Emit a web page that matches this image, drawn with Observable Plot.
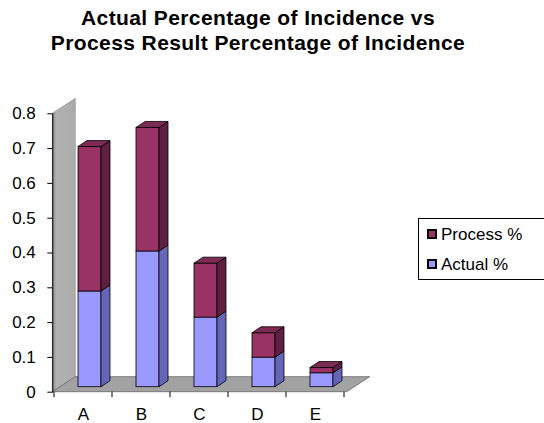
<!DOCTYPE html>
<html>
<head>
<meta charset="utf-8">
<script src="https://cdn.jsdelivr.net/npm/d3@7"></script>
<script src="https://cdn.jsdelivr.net/npm/@observablehq/plot@0.6"></script>
<style>
  body { margin: 0; background: #fff; font-family: "Liberation Sans", Arial, sans-serif; color: #000; }
  #wrap { position: relative; width: 544px; height: 423px; overflow: hidden; }
  #title { position: absolute; left: 0; top: 5px; width: 516px; text-align: center;
           font-weight: bold; font-size: 21px; line-height: 25px; letter-spacing: 0.4px; }
  #chart { position: absolute; left: 0; top: 58px; }
  #legend { position: absolute; left: 418px; top: 218px; width: 150px; height: 62px;
            border: 1px solid #000; box-sizing: border-box; }
  .item { position: absolute; left: 0; height: 17px; font-size: 17px; line-height: 17px; white-space: nowrap; }
  .sw { position: absolute; left: 8px; width: 10px; height: 10px; box-sizing: border-box; border: 2px solid #000; }
  .lab { position: absolute; left: 22px; top: 0; }
</style>
</head>
<body>
<div id="wrap">
  <div id="title">Actual Percentage of Incidence vs<br>Process Result Percentage of Incidence</div>
  <div id="chart"></div>
  <div id="legend"></div>
</div>
<script>
// Categories and the two stacked series
const categories = ["A", "B", "C", "D", "E"];
const actual  = [0.275, 0.39, 0.20, 0.085, 0.04];
const process = [0.415, 0.355, 0.155, 0.07, 0.015];
const seriesNames = ["Actual %", "Process %"];
const seriesFront = ["#9999FF", "#993366"];
const seriesSide  = ["#6666B8", "#5E1F40"];
const seriesTop   = ["#7B7BD6", "#7D2A55"];
const yTicks = [0, 0.1, 0.2, 0.3, 0.4, 0.5, 0.6, 0.7, 0.8];

// Long table for the stacked front faces
const rows = [];
categories.forEach((c, i) => {
  rows.push({cat: c, series: seriesNames[0], value: actual[i]});
  rows.push({cat: c, series: seriesNames[1], value: process[i]});
});

// 3D look: floor/wall depth and bar depth in pixels
const wallDx = 23, wallDy = -15;
const barLift = -5;          // bars stand back from the front edge of the floor
const barDx = 9, barDy = -6; // bar depth
const insetL = 24, insetR = 11;

function bandwidthOf(x, dims) {
  return x.bandwidth ? x.bandwidth() : (dims.width - dims.marginLeft - dims.marginRight) / categories.length;
}

// Back wall and floor
function wallAndFloor(index, scales, values, dims) {
  const {y} = scales;
  const g = d3.create("svg:g");
  const x0 = dims.marginLeft, x1 = dims.width - dims.marginRight;
  const yb = y(0), yt = y(y.domain()[1]);
  const grad = g.append("defs").append("linearGradient")
    .attr("id", "wallGrad").attr("x1", 0).attr("x2", 1).attr("y1", 0).attr("y2", 0);
  grad.append("stop").attr("offset", "0%").attr("stop-color", "#8e8e8e");
  grad.append("stop").attr("offset", "18%").attr("stop-color", "#b2b2b2");
  grad.append("stop").attr("offset", "100%").attr("stop-color", "#ababab");
  g.append("polygon")
    .attr("points", [[x0, yb], [x0, yt], [x0 + wallDx, yt + wallDy], [x0 + wallDx, yb + wallDy]].join(" "))
    .attr("fill", "url(#wallGrad)").attr("stroke", "#8a8a8a").attr("stroke-width", 0.6);
  g.append("polygon")
    .attr("points", [[x0, yb], [x1, yb], [x1 + wallDx, yb + wallDy], [x0 + wallDx, yb + wallDy]].join(" "))
    .attr("fill", "#a2a2a2").attr("stroke", "#666").attr("stroke-width", 0.8);
  return g.node();
}

// Side and top faces of the stacked bars, plus category tick marks
function barDepth(index, scales, values, dims) {
  const {x, y} = scales;
  const bw = bandwidthOf(x, dims);
  const g = d3.create("svg:g").attr("stroke", "#000").attr("stroke-width", 0.8).attr("stroke-linejoin", "round");
  categories.forEach((c, i) => {
    const xl = x(c) + insetL, xr = x(c) + bw - insetR;
    const stack = [[0, actual[i]], [actual[i], actual[i] + process[i]]];
    stack.forEach(([v0, v1], s) => {
      const y0 = y(v0) + barLift, y1 = y(v1) + barLift;
      g.append("polygon")
        .attr("points", [[xr, y0], [xr + barDx, y0 + barDy], [xr + barDx, y1 + barDy], [xr, y1]].join(" "))
        .attr("fill", seriesSide[s]);
    });
    const yt = y(actual[i] + process[i]) + barLift;
    g.append("polygon")
      .attr("points", [[xl, yt], [xr, yt], [xr + barDx, yt + barDy], [xl + barDx, yt + barDy]].join(" "))
      .attr("fill", seriesTop[1]);
  });
  const yb = y(0);
  const edges = categories.map(c => x(c)).concat([x(categories[categories.length - 1]) + bw]);
  edges.forEach(ex => {
    g.append("line").attr("x1", ex).attr("x2", ex).attr("y1", yb).attr("y2", yb + 5.5)
      .attr("stroke", "#000").attr("stroke-width", 1);
  });
  return g.node();
}

const chart = Plot.plot({
  width: 544,
  height: 365,
  marginLeft: 52.3,
  marginRight: 197.3,
  marginTop: 55.3,
  marginBottom: 31.3,
  style: {fontFamily: "'Liberation Sans', Arial, sans-serif", color: "#000", background: "transparent"},
  x: {domain: categories, padding: 0, axis: null},
  y: {domain: [0, 0.8], axis: null},
  color: {domain: seriesNames, range: seriesFront},
  marks: [
    wallAndFloor,
    Plot.barY(rows, {
      x: "cat", y: "value", fill: "series",
      insetLeft: insetL, insetRight: insetR, dy: barLift,
      stroke: "#000", strokeWidth: 0.8
    }),
    barDepth,
    Plot.frame({anchor: "left", stroke: "#000", strokeWidth: 1}),
    Plot.axisY({ticks: yTicks, tickSize: 5, tickPadding: 12, fontSize: 17,
                tickFormat: d => String(+d.toFixed(1)), label: null}),
    Plot.axisX({tickSize: 0, tickPadding: 16, fontSize: 17, label: null})
  ]
});
document.getElementById("chart").appendChild(chart);

// Legend: Process % above Actual %
const legend = d3.select("#legend");
[1, 0].forEach((s, k) => {
  const item = legend.append("div").attr("class", "item").style("top", (7 + k * 30) + "px");
  item.append("div").attr("class", "sw").style("top", "3px").style("background", seriesFront[s]);
  item.append("span").attr("class", "lab").text(seriesNames[s]);
});
</script>
</body>
</html>
